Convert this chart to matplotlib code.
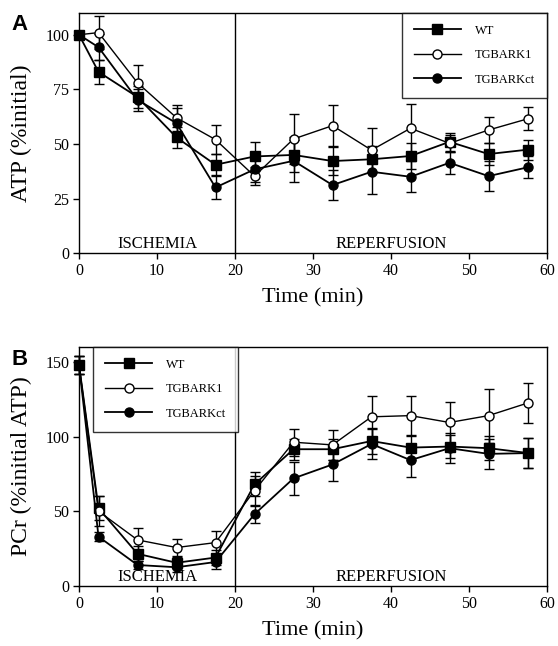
import matplotlib
matplotlib.use("Agg")
import matplotlib.pyplot as plt

plt.rcParams['font.family'] = ['Liberation Serif', 'DejaVu Serif']

# time points (min)
time = [0, 2.5, 7.5, 12.5, 17.5, 22.5, 27.5, 32.5, 37.5, 42.5, 47.5, 52.5, 57.5]
series_names = ["WT", "TGBARK1", "TGBARKct"]

# Panel A: ATP (% initial)
atp_wt = [100, 83, 71.5, 53, 40.5, 44.3, 45, 42.2, 43, 44.5, 51, 45.4, 47.4]
atp_wt_err = [0, 5.6, 5, 5, 5, 6.5, 8, 6.6, 6, 6, 4, 5, 4.5]
atp_k1 = [100, 101, 78, 62, 52, 35.3, 52.3, 58.4, 47.2, 57.2, 50.3, 56.4, 61.5]
atp_k1_err = [0, 7.5, 8, 6, 6.7, 4, 11.5, 9.5, 10, 11, 4, 6, 5.3]
atp_ct = [100, 94.3, 70.2, 59.5, 30.1, 38.4, 42.3, 31.2, 37.3, 35, 41.4, 35.3, 39.3]
atp_ct_err = [0, 6, 5, 7, 5.5, 6, 9.6, 7, 10, 7, 5, 6.7, 5]

# Panel B: PCr (% initial ATP)
pcr_wt = [148, 52, 21.5, 15.5, 19, 68, 91.5, 91.5, 97, 92.6, 93.3, 92.2, 89]
pcr_wt_err = [6, 8, 5, 4, 5, 8, 7, 7, 9, 8, 8, 8, 10]
pcr_k1 = [148, 50, 30.8, 25.7, 29, 63.8, 96.2, 94.4, 113.2, 114, 109.4, 114, 122.4]
pcr_k1_err = [6, 10, 8, 6, 8, 10, 9, 10, 14, 13, 13.6, 18, 13.6]
pcr_ct = [148, 33, 14, 12.5, 16, 48, 72, 81.3, 95, 84.2, 92.2, 88.4, 88.9]
pcr_ct_err = [6, 3, 3, 3, 5, 6, 11, 11, 10, 11, 10, 10, 10]

styles = [dict(marker='s', mfc='black', lw=1.3),
          dict(marker='o', mfc='white', lw=1.0),
          dict(marker='o', mfc='black', lw=1.3)]

fig = plt.figure(figsize=(5.58, 6.46), dpi=100)
axA = fig.add_axes([0.1416, 0.608, 0.8387, 0.372])
axB = fig.add_axes([0.1416, 0.093, 0.8387, 0.370])


def draw_panel(ax, ys, errs, ylim, yticks, ylabel, legend_loc):
    handles = []
    for y, e, st, name in zip(ys, errs, styles, series_names):
        eb = ax.errorbar(time, y, yerr=e, fmt='none', ecolor='black', elinewidth=1.0,
                         capsize=3.5, capthick=1.0, zorder=2)
        for art in eb.get_children():
            art.set_clip_on(False)
        h, = ax.plot(time, y, color='black', marker=st['marker'], mfc=st['mfc'],
                     mec='black', ms=6.5, lw=st['lw'], zorder=3, label=name,
                     clip_on=False)
        handles.append(h)
    ax.axvline(20, color='black', lw=1.0)
    ax.set_xlim(0, 60)
    ax.set_ylim(*ylim)
    ax.set_xticks([0, 10, 20, 30, 40, 50, 60])
    ax.set_yticks(yticks)
    ax.tick_params(direction='out', length=4, width=1, labelsize=11.5,
                   top=False, right=False, pad=3)
    for s in ax.spines.values():
        s.set_linewidth(1.0)
    ax.set_xlabel("Time (min)", fontsize=16, labelpad=7)
    ax.set_ylabel(ylabel, fontsize=17)
    ax.yaxis.set_label_coords(-0.1, 0.5)
    ax.text(10, 0.4, "ISCHEMIA", ha='center', va='bottom', fontsize=12)
    ax.text(40, 0.4, "REPERFUSION", ha='center', va='bottom', fontsize=12)
    leg = ax.legend(handles=handles, loc=legend_loc, fontsize=9, frameon=True,
                    fancybox=False, edgecolor='black', handlelength=3.8,
                    borderpad=0.95, labelspacing=1.0, handletextpad=1.1,
                    borderaxespad=0)
    leg.get_frame().set_linewidth(1.0)
    return ax


draw_panel(axA, [atp_wt, atp_k1, atp_ct], [atp_wt_err, atp_k1_err, atp_ct_err],
           (0, 110), [0, 25, 50, 75, 100], "ATP (%initial)", 'upper right')
draw_panel(axB, [pcr_wt, pcr_k1, pcr_ct], [pcr_wt_err, pcr_k1_err, pcr_ct_err],
           (0, 160), [0, 50, 100, 150], "PCr (%initial ATP)", 'upper left')

# panel B legend sits slightly right of the y axis
axB.get_legend().set_bbox_to_anchor((0.03, 1.0))

fig.text(0.02, 0.953, "A", fontsize=16, fontweight='bold', family='Liberation Sans')
fig.text(0.02, 0.435, "B", fontsize=16, fontweight='bold', family='Liberation Sans')

fig.savefig("out.png", dpi=100)
